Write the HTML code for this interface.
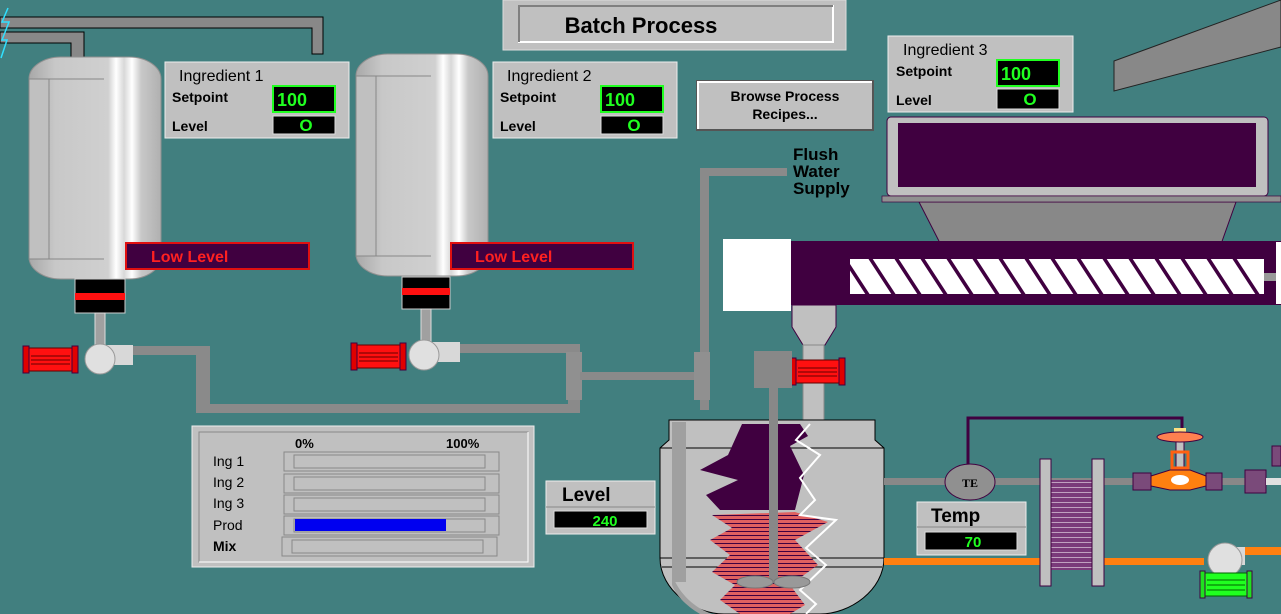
<!DOCTYPE html>
<html><head><meta charset="utf-8"><style>
html,body{margin:0;padding:0;background:#417f7f;}
svg{display:block;font-family:"Liberation Sans",Arial,sans-serif;}
</style></head><body>
<svg width="1281" height="614" viewBox="0 0 1281 614" xmlns="http://www.w3.org/2000/svg">
<defs>
<pattern id="rs" width="6" height="4" patternUnits="userSpaceOnUse"><rect width="6" height="4" fill="#e06060"/><rect y="3" width="6" height="1" fill="#400040"/></pattern>
<pattern id="hx" width="6" height="5" patternUnits="userSpaceOnUse"><rect width="6" height="5" fill="#7a3a7a"/><rect y="2" width="6" height="1" fill="#c0a0c0"/></pattern>
<linearGradient id="tk" x1="0" x2="1"><stop offset="0" stop-color="#a8a8a8"/><stop offset="0.2" stop-color="#c8c8c8"/><stop offset="0.6" stop-color="#d0d0d0"/><stop offset="0.66" stop-color="#ffffff"/><stop offset="0.72" stop-color="#d8d8d8"/><stop offset="0.78" stop-color="#ffffff"/><stop offset="0.85" stop-color="#c8c8c8"/><stop offset="1" stop-color="#b0b0b0"/></linearGradient>
<g id="tank">
<rect x="0" y="0" width="132" height="222" rx="32" ry="22" fill="url(#tk)" stroke="#909090"/>
<rect x="0" y="22" width="20" height="180" fill="#c0c0c0" stroke="#888"/>
<line x1="20" y1="22" x2="75" y2="22" stroke="#888"/>
<line x1="20" y1="202" x2="75" y2="202" stroke="#888"/>
</g>
<g id="motorR"><rect x="0" y="0" width="55" height="23" fill="#ff1010" stroke="#600000"/><rect x="0" y="-2" width="6" height="27" fill="#e00000" stroke="#400040"/><rect x="49" y="-2" width="6" height="27" fill="#e00000" stroke="#400040"/><line x1="8" y1="8" x2="47" y2="8" stroke="#600"/><line x1="8" y1="12" x2="47" y2="12" stroke="#600"/><line x1="8" y1="16" x2="47" y2="16" stroke="#600"/></g>
</defs>

<path d="M0 17 H323 V54 H312 V28 H0Z" fill="#888" stroke="#000" stroke-width="1"/>
<path d="M0 32 H84 V57 H71 V43 H0Z" fill="#888" stroke="#000" stroke-width="1"/>
<polyline points="8,8 2,22 9,22 2,40 7,40 1,58" fill="none" stroke="#30e0ff" stroke-width="1.5"/>

<rect x="503" y="0" width="343" height="50" fill="#c0c0c0" stroke="#ddd"/>
<rect x="519" y="6" width="314" height="36" fill="#c0c0c0" stroke="#fff" stroke-width="2"/>
<path d="M519 42 V6 H833" stroke="#808080" stroke-width="2" fill="none"/>
<text x="641" y="33" font-size="22" font-weight="bold" text-anchor="middle">Batch Process</text>

<g fill="#8a8a8a">
<rect x="118" y="346" width="92" height="9"/>
<rect x="196" y="346" width="14" height="67"/>
<rect x="196" y="404" width="384" height="9"/>
<rect x="440" y="344" width="140" height="9"/>
<rect x="568" y="344" width="12" height="69"/>
<rect x="566" y="352" width="16" height="48" fill="#909090"/>
<rect x="580" y="372" width="125" height="8"/>
<rect x="700" y="168" width="9" height="242"/>
<rect x="694" y="352" width="16" height="48" fill="#909090"/>
<rect x="700" y="168" width="87" height="8"/>
</g>

<use href="#tank" x="29" y="57"/>
<use href="#tank" x="356" y="54"/>
<rect x="75" y="279" width="50" height="34" fill="#000" stroke="#ccc"/><rect x="75" y="293" width="50" height="7" fill="#ff1010"/>
<rect x="402" y="277" width="48" height="32" fill="#000" stroke="#ccc"/><rect x="402" y="288" width="48" height="7" fill="#ff1010"/>
<rect x="95" y="313" width="10" height="34" fill="#a0a0a0" stroke="#ddd"/>
<rect x="421" y="309" width="10" height="34" fill="#a0a0a0" stroke="#ddd"/>
<rect x="100" y="345" width="33" height="20" fill="#d8d8d8"/>
<circle cx="100" cy="359" r="15" fill="#e0e0e0" stroke="#999"/>
<use href="#motorR" x="23" y="348"/>
<rect x="424" y="342" width="36" height="20" fill="#d8d8d8"/>
<circle cx="424" cy="355" r="15" fill="#e0e0e0" stroke="#999"/>
<use href="#motorR" x="351" y="345"/>

<rect x="126" y="243" width="183" height="26" fill="#400040" stroke="#e01010" stroke-width="2"/>
<text x="151" y="262" font-size="16" font-weight="bold" fill="#ff2020">Low Level</text>
<rect x="451" y="243" width="182" height="26" fill="#400040" stroke="#e01010" stroke-width="2"/>
<text x="475" y="262" font-size="16" font-weight="bold" fill="#ff2020">Low Level</text>

<g font-size="15">
<rect x="165" y="62" width="184" height="76" fill="#c0c0c0" stroke="#eee"/>
<text x="179" y="81" font-size="16">Ingredient 1</text>
<text x="172" y="102" font-weight="bold" font-size="14">Setpoint</text>
<text x="172" y="131" font-weight="bold" font-size="14">Level</text>
<rect x="273" y="86" width="62" height="26" fill="#000" stroke="#20ff20" stroke-width="2"/>
<text x="277" y="106" fill="#20ff20" font-weight="bold" font-size="18">100</text>
<rect x="273" y="116" width="62" height="18" fill="#000" stroke="#ddd"/>
<text x="306" y="131" fill="#20ff20" font-weight="bold" font-size="17" text-anchor="middle">O</text>

<rect x="493" y="62" width="184" height="76" fill="#c0c0c0" stroke="#eee"/>
<text x="507" y="81" font-size="16">Ingredient 2</text>
<text x="500" y="102" font-weight="bold" font-size="14">Setpoint</text>
<text x="500" y="131" font-weight="bold" font-size="14">Level</text>
<rect x="601" y="86" width="62" height="26" fill="#000" stroke="#20ff20" stroke-width="2"/>
<text x="605" y="106" fill="#20ff20" font-weight="bold" font-size="18">100</text>
<rect x="601" y="116" width="62" height="18" fill="#000" stroke="#ddd"/>
<text x="634" y="131" fill="#20ff20" font-weight="bold" font-size="17" text-anchor="middle">O</text>

<rect x="888" y="36" width="185" height="76" fill="#c0c0c0" stroke="#eee"/>
<text x="903" y="55" font-size="16">Ingredient 3</text>
<text x="896" y="76" font-weight="bold" font-size="14">Setpoint</text>
<text x="896" y="105" font-weight="bold" font-size="14">Level</text>
<rect x="997" y="60" width="62" height="26" fill="#000" stroke="#20ff20" stroke-width="2"/>
<text x="1001" y="80" fill="#20ff20" font-weight="bold" font-size="18">100</text>
<rect x="997" y="89" width="62" height="20" fill="#000" stroke="#ddd"/>
<text x="1030" y="105" fill="#20ff20" font-weight="bold" font-size="17" text-anchor="middle">O</text>
</g>

<rect x="697" y="81" width="176" height="49" fill="#c0c0c0" stroke="#555" stroke-width="2"/>
<path d="M698 129 V82 H872" stroke="#fff" stroke-width="2" fill="none"/>
<text x="785" y="101" font-size="14" font-weight="bold" text-anchor="middle">Browse Process</text>
<text x="785" y="119" font-size="14" font-weight="bold" text-anchor="middle">Recipes...</text>

<text font-size="17" font-weight="bold"><tspan x="793" y="160">Flush</tspan><tspan x="793" y="177">Water</tspan><tspan x="793" y="194">Supply</tspan></text>

<polygon points="1114,61 1281,0 1281,47 1114,91" fill="#888" stroke="#222"/>

<polygon points="919,202 1236,202 1220,247 942,247" fill="#888" stroke="#400040"/>
<rect x="887" y="117" width="381" height="79" rx="4" fill="#c0c0c0" stroke="#400040"/>
<rect x="898" y="123" width="358" height="64" fill="#400040"/>
<rect x="882" y="196" width="399" height="6" fill="#909090" stroke="#400040" stroke-width="0.7"/>

<rect x="723" y="239" width="68" height="72" fill="#fff"/>
<rect x="791" y="241" width="490" height="64" fill="#400040"/>
<rect x="850" y="259" width="414" height="35" fill="#fff"/>
<g stroke="#400040" stroke-width="3.5">
<line x1="842" y1="255" x2="870" y2="298"/><line x1="868" y1="255" x2="896" y2="298"/><line x1="894" y1="255" x2="922" y2="298"/><line x1="920" y1="255" x2="948" y2="298"/><line x1="946" y1="255" x2="974" y2="298"/><line x1="972" y1="255" x2="1000" y2="298"/><line x1="998" y1="255" x2="1026" y2="298"/><line x1="1024" y1="255" x2="1052" y2="298"/><line x1="1050" y1="255" x2="1078" y2="298"/><line x1="1076" y1="255" x2="1104" y2="298"/><line x1="1102" y1="255" x2="1130" y2="298"/><line x1="1128" y1="255" x2="1156" y2="298"/><line x1="1154" y1="255" x2="1182" y2="298"/><line x1="1180" y1="255" x2="1208" y2="298"/><line x1="1206" y1="255" x2="1234" y2="298"/><line x1="1232" y1="255" x2="1260" y2="298"/>
</g>
<rect x="1264" y="273" width="17" height="8" fill="#999"/>
<rect x="1276" y="242" width="5" height="62" fill="#fff"/>

<path d="M792 305 H836 V327 L825 345 H803 L792 327Z" fill="#c0c0c0" stroke="#400040"/>
<rect x="803" y="345" width="21" height="77" fill="#c0c0c0" stroke="#888"/>
<use href="#motorR" x="790" y="360"/>

<rect x="754" y="351" width="38" height="37" fill="#888"/>

<path d="M660 448 L669 440 V420 H875 V440 L884 448 V558 C884 590 850 614 820 614 H724 C694 614 660 590 660 558Z" fill="#c0c0c0" stroke="#000"/>
<line x1="660" y1="448" x2="884" y2="448" stroke="#000"/>
<line x1="660" y1="558" x2="884" y2="558" stroke="#000"/>
<line x1="662" y1="567" x2="882" y2="567" stroke="#000"/>
<path d="M672 422 V575 C680 595 695 608 712 614 H700 C685 605 676 595 672 585Z" fill="#a0a0a0"/>
<rect x="672" y="422" width="14" height="160" fill="#a0a0a0"/>
<polygon points="742,424 800,424 808,436 790,446 804,475 795,510 720,510 706,495 738,480 700,470 728,455" fill="#400040"/>
<polygon points="712,515 795,512 828,522 795,540 818,565 790,585 805,605 790,614 740,614 720,600 735,585 712,572 730,555 710,540 732,528" fill="url(#rs)"/>
<polyline points="810,424 796,440 820,455 800,478 815,500 800,515 836,520 806,548 826,565 800,590 816,604 806,614" fill="none" stroke="#fff" stroke-width="2"/>
<rect x="769" y="388" width="9" height="195" fill="#888"/>
<ellipse cx="755" cy="582" rx="18" ry="6" fill="#999" stroke="#777"/>
<ellipse cx="792" cy="582" rx="18" ry="6" fill="#999" stroke="#777"/>

<rect x="546" y="481" width="109" height="53" fill="#c0c0c0" stroke="#eee"/>
<line x1="546" y1="507" x2="655" y2="507" stroke="#888"/>
<text x="562" y="501" font-size="19" font-weight="bold">Level</text>
<rect x="554" y="511" width="93" height="17" fill="#000" stroke="#ddd"/>
<text x="605" y="526" font-size="15" font-weight="bold" fill="#20ff20" text-anchor="middle">240</text>

<rect x="192" y="426" width="342" height="141" fill="#c0c0c0" stroke="#eee"/>
<rect x="199" y="432" width="329" height="130" fill="none" stroke="#888"/>
<path d="M199 562 H528 V432" stroke="#fff" fill="none"/>
<g font-size="14">
<text x="295" y="448" font-weight="bold" font-size="13">0%</text>
<text x="446" y="448" font-weight="bold" font-size="13">100%</text>
<text x="213" y="466">Ing 1</text>
<text x="213" y="487">Ing 2</text>
<text x="213" y="508">Ing 3</text>
<text x="213" y="530">Prod</text>
<text x="213" y="551" font-weight="bold">Mix</text>
</g>
<g fill="#c0c0c0" stroke="#888">
<rect x="284" y="452" width="215" height="19"/><rect x="294" y="455" width="191" height="13"/>
<rect x="284" y="474" width="215" height="19"/><rect x="294" y="477" width="191" height="13"/>
<rect x="284" y="495" width="215" height="19"/><rect x="294" y="498" width="191" height="13"/>
<rect x="284" y="516" width="215" height="19"/><rect x="294" y="519" width="191" height="13"/>
<rect x="282" y="537" width="215" height="19"/><rect x="292" y="540" width="191" height="13"/>
</g>
<rect x="295" y="519" width="151" height="12" fill="#0000f0"/>

<rect x="884" y="478" width="397" height="7" fill="#888"/>
<rect x="884" y="558" width="320" height="7" fill="#ff8010"/>
<rect x="1240" y="547" width="41" height="8" fill="#ff8010"/>
<polyline points="968,466 968,418 1182,418 1182,430" fill="none" stroke="#400040" stroke-width="3"/>
<ellipse cx="970" cy="482" rx="25" ry="18" fill="#909090" stroke="#400040"/>
<text x="970" y="487" font-size="12" font-weight="bold" text-anchor="middle" font-family="Liberation Serif,serif">TE</text>

<rect x="917" y="502" width="109" height="53" fill="#c0c0c0" stroke="#eee"/>
<line x1="917" y1="527" x2="1026" y2="527" stroke="#888"/>
<text x="931" y="522" font-size="19" font-weight="bold">Temp</text>
<rect x="925" y="532" width="92" height="18" fill="#000" stroke="#ddd"/>
<text x="973" y="547" font-size="15" font-weight="bold" fill="#20ff20" text-anchor="middle">70</text>

<rect x="1051" y="480" width="41" height="90" fill="url(#hx)"/>
<rect x="1040" y="459" width="11" height="127" fill="#c0c0c0" stroke="#400040"/>
<rect x="1092" y="459" width="12" height="127" fill="#c0c0c0" stroke="#400040"/>

<rect x="1176" y="440" width="8" height="32" fill="#c0c0c0" stroke="#400040"/>
<rect x="1174" y="428" width="12" height="5" fill="#ffe080"/>
<ellipse cx="1180" cy="437" rx="23" ry="5" fill="#ff8050" stroke="#400040"/>
<rect x="1172" y="452" width="16" height="16" fill="none" stroke="#ff6010" stroke-width="3"/>
<path d="M1151 476 L1170 470 H1190 L1206 476 V486 L1190 490 H1170 L1151 486Z" fill="#ff8010" stroke="#400040"/>
<ellipse cx="1180" cy="480" rx="9" ry="5" fill="#fff"/>
<rect x="1133" y="473" width="18" height="17" fill="#7a4a7a" stroke="#400040"/>
<rect x="1206" y="473" width="16" height="17" fill="#7a4a7a" stroke="#400040"/>
<rect x="1245" y="470" width="21" height="23" fill="#7a4a7a" stroke="#400040"/>
<rect x="1266" y="478" width="15" height="7" fill="#e0e0e0"/>
<rect x="1272" y="446" width="9" height="20" fill="#7a4a7a" stroke="#400040"/>

<rect x="1225" y="547" width="20" height="18" fill="#d8d8d8"/>
<circle cx="1225" cy="560" r="17" fill="#e0e0e0" stroke="#999"/>
<rect x="1200" y="573" width="52" height="23" fill="#20ff20" stroke="#006000"/>
<rect x="1200" y="571" width="5" height="27" fill="#20e020" stroke="#400040"/>
<rect x="1247" y="571" width="5" height="27" fill="#20e020" stroke="#400040"/>
<line x1="1207" y1="580" x2="1245" y2="580" stroke="#060"/><line x1="1207" y1="585" x2="1245" y2="585" stroke="#060"/><line x1="1207" y1="590" x2="1245" y2="590" stroke="#060"/>
</svg>
</body></html>
